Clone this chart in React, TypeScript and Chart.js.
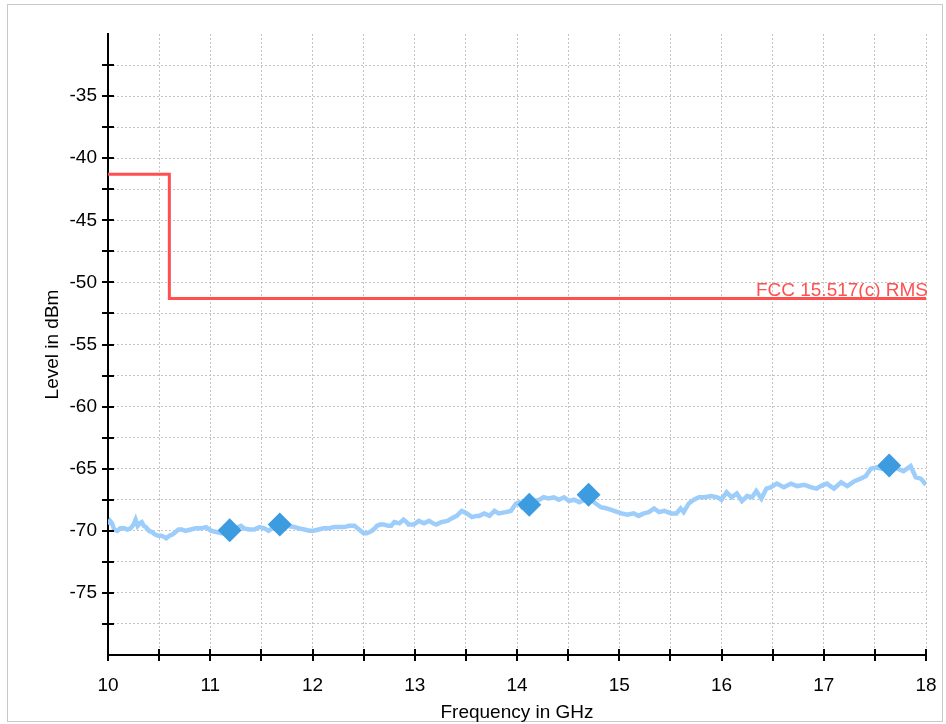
import React, { useEffect, useRef } from 'react';
import { Chart, registerables } from 'chart.js';

Chart.register(...registerables);

// Measured trace (frequency in GHz, level in dBm)
const traceFreq = [
  10.0, 10.02, 10.04, 10.06, 10.09, 10.12, 10.16, 10.19, 10.22, 10.25, 10.27, 10.29, 10.31, 10.33, 10.35, 10.37,
  10.4, 10.43, 10.46, 10.49, 10.52, 10.55, 10.57, 10.6, 10.63, 10.66, 10.69, 10.72, 10.76, 10.81, 10.86, 10.91,
  10.96, 11.01, 11.06, 11.11, 11.16, 11.2, 11.25, 11.3, 11.33, 11.38, 11.43, 11.48, 11.53, 11.57, 11.62, 11.68,
  11.74, 11.82, 11.87, 11.92, 11.97, 12.01, 12.06, 12.11, 12.16, 12.21, 12.26, 12.31, 12.36, 12.41, 12.44, 12.47,
  12.5, 12.53, 12.56, 12.58, 12.61, 12.63, 12.66, 12.7, 12.74, 12.77, 12.8, 12.85, 12.89, 12.92, 12.94, 12.99,
  13.04, 13.09, 13.14, 13.18, 13.21, 13.26, 13.32, 13.36, 13.41, 13.46, 13.51, 13.56, 13.6, 13.63, 13.68, 13.73,
  13.78, 13.82, 13.89, 13.94, 13.99, 14.02, 14.05, 14.09, 14.12, 14.17, 14.22, 14.26, 14.31, 14.36, 14.41, 14.46,
  14.51, 14.56, 14.61, 14.66, 14.7, 14.74, 14.77, 14.82, 14.88, 14.95, 15.02, 15.08, 15.14, 15.19, 15.24, 15.29,
  15.34, 15.39, 15.44, 15.51, 15.56, 15.6, 15.63, 15.68, 15.73, 15.78, 15.83, 15.9, 15.96, 16.0, 16.05, 16.1,
  16.15, 16.2, 16.25, 16.3, 16.34, 16.39, 16.44, 16.48, 16.54, 16.61, 16.68, 16.74, 16.81, 16.88, 16.93, 16.97,
  17.03, 17.1, 17.17, 17.23, 17.3, 17.36, 17.41, 17.46, 17.51, 17.57, 17.64, 17.72, 17.78, 17.85, 17.9, 17.95, 18.0,
];
const traceLevel = [
  -69.5, -69.2, -69.4, -69.9, -70.0, -69.8, -69.8, -69.9, -69.8, -69.5, -69.1, -69.6, -69.4, -69.3, -69.6, -69.7,
  -70.0, -70.1, -70.3, -70.4, -70.4, -70.5, -70.6, -70.4, -70.3, -70.1, -69.9, -69.9, -70.0, -69.9, -69.8, -69.8,
  -69.7, -70.0, -70.1, -70.2, -70.2, -70.0, -69.8, -69.6, -69.8, -69.9, -69.9, -69.7, -69.8, -70.0, -69.7, -69.5,
  -69.6, -69.7, -69.8, -69.9, -70.0, -70.0, -69.9, -69.8, -69.8, -69.7, -69.7, -69.7, -69.6, -69.6, -69.8, -70.0,
  -70.2, -70.2, -70.1, -70.0, -69.8, -69.6, -69.5, -69.5, -69.6, -69.6, -69.3, -69.4, -69.1, -69.3, -69.5, -69.5,
  -69.2, -69.4, -69.2, -69.4, -69.5, -69.3, -69.2, -69.0, -68.8, -68.4, -68.6, -68.9, -68.8, -68.8, -68.6, -68.8,
  -68.4, -68.6, -68.5, -68.4, -67.8, -67.7, -68.1, -67.9, -67.9, -67.6, -67.5, -67.3, -67.4, -67.3, -67.5, -67.3,
  -67.6, -67.5, -67.7, -67.5, -67.2, -67.6, -67.8, -68.1, -68.2, -68.4, -68.6, -68.7, -68.6, -68.8, -68.6, -68.5,
  -68.2, -68.5, -68.4, -68.6, -68.6, -68.2, -68.5, -67.8, -67.5, -67.3, -67.3, -67.2, -67.3, -67.5, -66.9, -67.3,
  -67.0, -67.6, -67.2, -67.3, -66.8, -67.4, -66.6, -66.5, -66.2, -66.5, -66.2, -66.4, -66.3, -66.5, -66.6, -66.4,
  -66.2, -66.6, -66.1, -66.4, -66.0, -65.8, -65.6, -65.0, -64.9, -65.0, -64.8, -65.0, -65.2, -64.8, -65.7, -65.8, -66.3,
];

// Limit line FCC 15.517(c) RMS
const limitFreq = [10, 10.6, 10.6, 18];
const limitLevel = [-41.3, -41.3, -51.3, -51.3];
const limitLabel = 'FCC 15.517(c) RMS';

// Peak markers
const markerFreq = [11.19, 11.68, 14.12, 14.7, 17.64];
const markerLevel = [-69.95, -69.5, -67.9, -67.1, -64.75];

// Axes
const xMin = 10;
const xMax = 18;
const yMin = -80;
const yMax = -30;
const xTickLabels = ['10', '11', '12', '13', '14', '15', '16', '17', '18'];
const yTickLabels = ['-35', '-40', '-45', '-50', '-55', '-60', '-65', '-70', '-75'];
const xTitle = 'Frequency in GHz';
const yTitle = 'Level in dBm';

const FONT = "'Liberation Sans', Arial, sans-serif";

export default function App() {
  const ref = useRef<HTMLCanvasElement | null>(null);

  useEffect(() => {
    document.body.style.margin = '0';
    const canvas = ref.current;
    if (!canvas) return;

    const framePlugin = {
      id: 'frame',
      beforeDraw(chart: any) {
        const ctx = chart.ctx;
        ctx.save();
        ctx.fillStyle = '#ffffff';
        ctx.fillRect(0, 0, chart.width, chart.height);
        ctx.strokeStyle = '#c8c8c8';
        ctx.lineWidth = 1;
        ctx.strokeRect(7.5, 4.5, chart.width - 11, chart.height - 7);
        ctx.restore();
      },
    };

    const axisPlugin = {
      id: 'axisTicks',
      afterDatasetsDraw(chart: any) {
        const ctx = chart.ctx;
        const xs = chart.scales.x;
        const ys = chart.scales.y;
        const area = chart.chartArea;
        ctx.save();
        ctx.strokeStyle = '#000000';
        ctx.lineWidth = 2;
        ctx.beginPath();
        for (let v = yMin + 2.5; v < yMax; v += 2.5) {
          const py = Math.round(ys.getPixelForValue(v));
          ctx.moveTo(area.left - 6, py);
          ctx.lineTo(area.left + 6, py);
        }
        for (let v = xMin; v <= xMax + 1e-9; v += 0.5) {
          const px = Math.round(xs.getPixelForValue(v));
          ctx.moveTo(px, area.bottom - 6);
          ctx.lineTo(px, area.bottom + 6);
        }
        ctx.stroke();
        // limit label
        ctx.fillStyle = '#ff5050';
        ctx.font = `19px ${FONT}`;
        ctx.textAlign = 'right';
        ctx.textBaseline = 'alphabetic';
        ctx.fillText(limitLabel, xs.getPixelForValue(xMax) + 2, ys.getPixelForValue(limitLevel[3]) - 3);
        ctx.restore();
      },
    };

    const chart = new Chart(canvas, {
      type: 'scatter',
      data: {
        datasets: [
          {
            label: 'Peaks',
            data: markerFreq.map((f, i) => ({ x: f, y: markerLevel[i] })),
            showLine: false,
            pointStyle: 'rectRot',
            pointRadius: 12,
            pointBackgroundColor: '#3d9be0',
            pointBorderWidth: 0,
            backgroundColor: '#3d9be0',
            borderColor: '#3d9be0',
          },
          {
            label: 'Trace',
            data: traceFreq.map((f, i) => ({ x: f, y: traceLevel[i] })),
            showLine: true,
            borderColor: '#9dcdfb',
            borderWidth: 4.5,
            pointRadius: 0,
            tension: 0,
          },
          {
            label: limitLabel,
            data: limitFreq.map((f, i) => ({ x: f, y: limitLevel[i] })),
            showLine: true,
            borderColor: '#ff5050',
            borderWidth: 3,
            pointRadius: 0,
            tension: 0,
          },
        ],
      },
      options: {
        animation: false,
        responsive: false,
        devicePixelRatio: 1,
        layout: { padding: { left: 0, top: 34, right: 20, bottom: 0 } },
        plugins: {
          legend: { display: false },
          tooltip: { enabled: false },
        },
        scales: {
          x: {
            type: 'linear',
            min: xMin,
            max: xMax,
            afterFit: (s: any) => {
              s.height = 69;
              s.paddingLeft = 0;
              s.paddingRight = 0;
            },
            ticks: {
              stepSize: 0.5,
              autoSkip: false,
              maxRotation: 0,
              padding: 19,
              color: '#000000',
              font: { family: FONT, size: 19 },
              callback: (v: any) => {
                const i = xTickLabels.indexOf(String(v));
                return i >= 0 ? xTickLabels[i] : '';
              },
            },
            grid: {
              drawTicks: false,
              lineWidth: 1,
              color: (c: any) => (c.tick && c.tick.value === xMin ? 'rgba(0,0,0,0)' : '#c4c4c4'),
            },
            border: { display: true, color: '#000000', width: 2, dash: [2, 2] },
            title: {
              display: true,
              text: xTitle,
              color: '#000000',
              font: { family: FONT, size: 19 },
              padding: { top: 0, bottom: 0 },
            },
          },
          y: {
            type: 'linear',
            min: yMin,
            max: yMax,
            afterFit: (s: any) => {
              s.width = 108;
              s.paddingTop = 0;
              s.paddingBottom = 0;
            },
            ticks: {
              stepSize: 2.5,
              autoSkip: false,
              padding: 11,
              color: '#000000',
              font: { family: FONT, size: 19 },
              callback: (v: any) => {
                const i = yTickLabels.indexOf(String(v));
                return i >= 0 ? yTickLabels[i] : '';
              },
            },
            grid: {
              drawTicks: false,
              lineWidth: 1,
              color: (c: any) =>
                c.tick && (c.tick.value === yMax || c.tick.value === yMin) ? 'rgba(0,0,0,0)' : '#c4c4c4',
            },
            border: { display: true, color: '#000000', width: 2, dash: [2, 2] },
            title: {
              display: true,
              text: yTitle,
              color: '#000000',
              font: { family: FONT, size: 19 },
              padding: { top: 41, bottom: 0 },
            },
          },
        },
      },
      plugins: [framePlugin, axisPlugin],
    } as any);

    return () => chart.destroy();
  }, []);

  return <canvas ref={ref} width={946} height={724} style={{ display: 'block', width: 946, height: 724 }} />;
}
